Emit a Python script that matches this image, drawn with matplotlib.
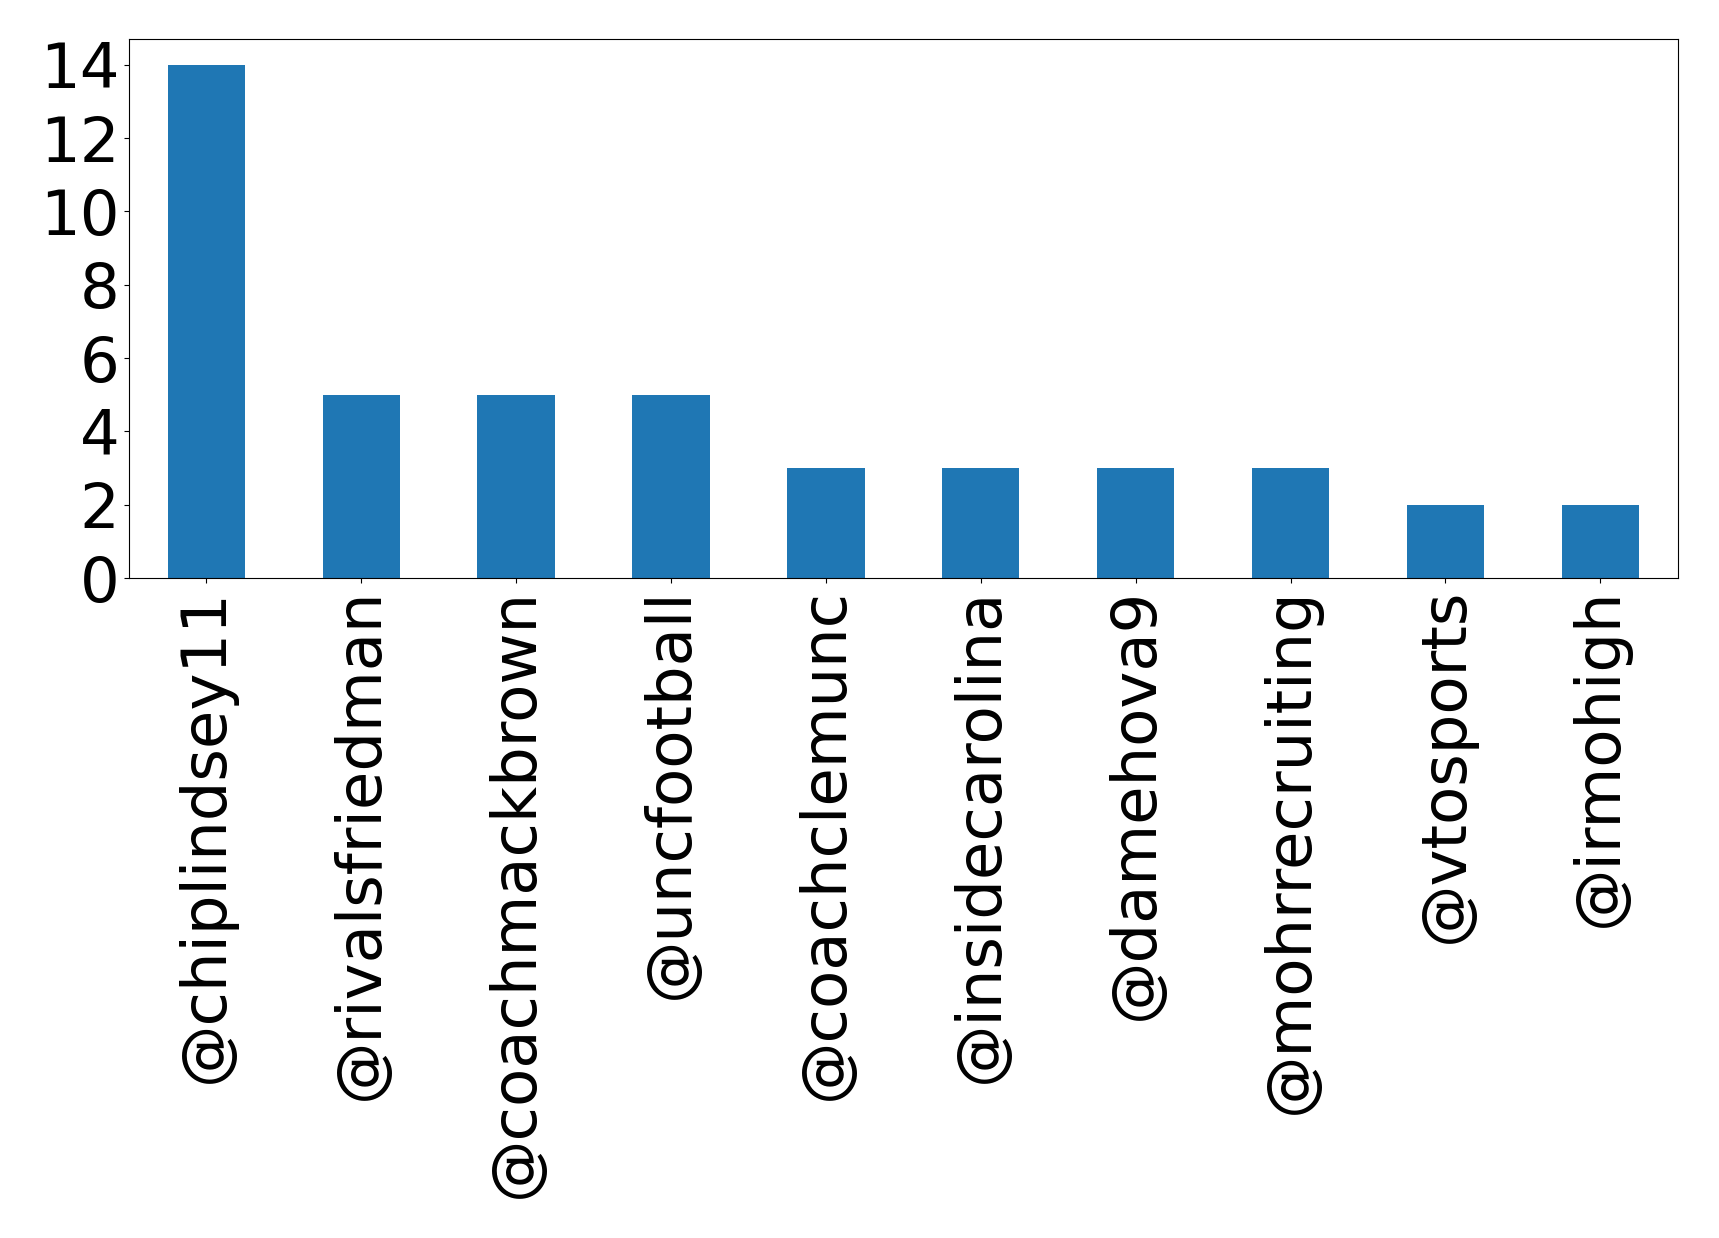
import matplotlib
matplotlib.use("Agg")
import matplotlib.pyplot as plt

handles = ["@chiplindsey11", "@rivalsfriedman", "@coachmackbrown", "@uncfootball",
           "@coachclemunc", "@insidecarolina", "@damehova9", "@mohrrecruiting",
           "@vtosports", "@irmohigh"]
counts = [14, 5, 5, 5, 3, 3, 3, 3, 2, 2]

fig = plt.figure(figsize=(17.19, 12.38), dpi=100)
ax = fig.add_axes([0.075, 0.533, 0.901, 0.4355])

x = range(len(handles))
ax.bar(x, counts, width=0.5, color="#1f77b4")
ax.set_xlim(-0.5, len(handles) - 0.5)
ax.set_ylim(0, max(counts) * 1.05)
ax.set_xticks(list(x))
ax.set_xticklabels(handles, rotation=90)
ax.set_yticks(range(0, 15, 2))
ax.tick_params(axis="both", labelsize=45)

fig.savefig("out.png", dpi=100)
